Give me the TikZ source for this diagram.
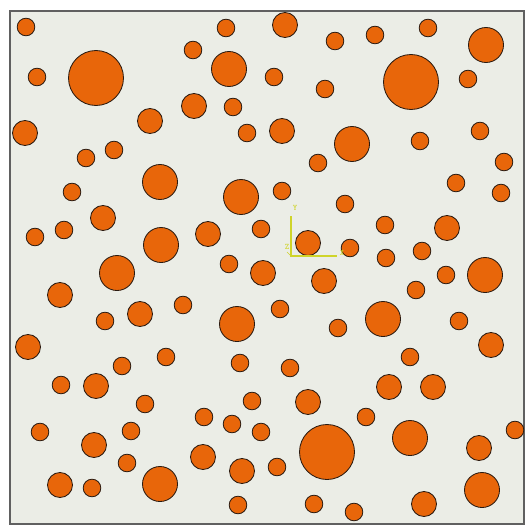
\documentclass[tikz,border=0pt]{standalone}
\usetikzlibrary{calc}

\begin{document}
\begin{tikzpicture}[x=0.5mm, y=-0.5mm]
    % Define colours
    \definecolor{matrixColour}{HTML}{EBEDE6}
    \definecolor{aggColour}{HTML}{E8660A}
    \definecolor{edgeColour}{HTML}{2A1A10}
    \definecolor{frameColour}{HTML}{606060}
    \definecolor{triadColour}{HTML}{CFD42A}

    % Define particle radii
    \def\rA{27.5}
    \def\rB{17.5}
    \def\rC{12.5}
    \def\rD{8.8}

    \tikzset{
        aggregate/.style={fill=aggColour, draw=edgeColour, line width=1.2pt},
        triad/.style={draw=triadColour, line width=2pt},
        triadlabel/.style={text=triadColour, font=\ttfamily\large\bfseries, inner sep=0pt}
    }

    % Fix the page size
    \useasboundingbox (0,0) rectangle (526,530);

    % Draw specimen
    \filldraw[fill=matrixColour, draw=frameColour, line width=1.5pt] (10,11) rectangle (524,524);

    % Large particles
    \foreach \x/\y in {96/78, 411/82, 327/452}
        \filldraw[aggregate] (\x,\y) circle (\rA);

    % Medium particles
    \foreach \x/\y in {229/69, 486/45, 160/182, 241/197, 352/144, 161/245, 117/273,
                       237/324, 383/319, 485/275, 410/438, 160/484, 482/490}
        \filldraw[aggregate] (\x,\y) circle (\rB);

    % Small particles
    \foreach \x/\y in {285/25, 25/133, 150/121, 194/106, 282/131, 103/218, 208/234,
                       308/243, 447/228, 263/273, 324/281, 60/295, 140/314, 28/347,
                       96/386, 491/345, 389/387, 433/387, 308/402, 94/445, 203/457,
                       242/471, 479/448, 60/485, 424/504}
        \filldraw[aggregate] (\x,\y) circle (\rC);

    % Smallest particles
    \foreach \x/\y in {26/27, 226/28, 193/50, 37/77, 233/107, 247/133, 114/150, 86/158,
                       72/192, 64/230, 35/237, 261/229, 229/264, 335/41, 375/35, 428/28,
                       274/77, 325/89, 468/79, 420/141, 480/131, 318/163, 504/162,
                       456/183, 501/193, 282/191, 345/204, 385/225, 350/248, 386/258,
                       422/251, 105/321, 183/305, 122/366, 166/357, 240/363, 61/385,
                       145/404, 252/401, 40/432, 131/431, 204/417, 232/424, 261/432,
                       127/463, 92/488, 238/505, 446/275, 416/290, 280/309, 338/328,
                       459/321, 410/357, 290/368, 366/417, 515/430, 277/467, 314/504,
                       354/512}
        \filldraw[aggregate] (\x,\y) circle (\rD);

    % Draw coordinate triad
    \coordinate (origin) at (291,256);
    \coordinate (yEnd) at (291,216);
    \coordinate (xEnd) at (337,256);
    \draw[triad] (yEnd) -- (origin) -- (xEnd);
    \draw[triad, line width=1pt] (origin) -- ++(-4,-4);
    \node[triadlabel] (yLabel) at (295,208) {Y};
    \node[triadlabel] (xLabel) at (342,253) {X};
    \node[triadlabel] (zLabel) at (287,247) {Z};

\end{tikzpicture}
\end{document}
